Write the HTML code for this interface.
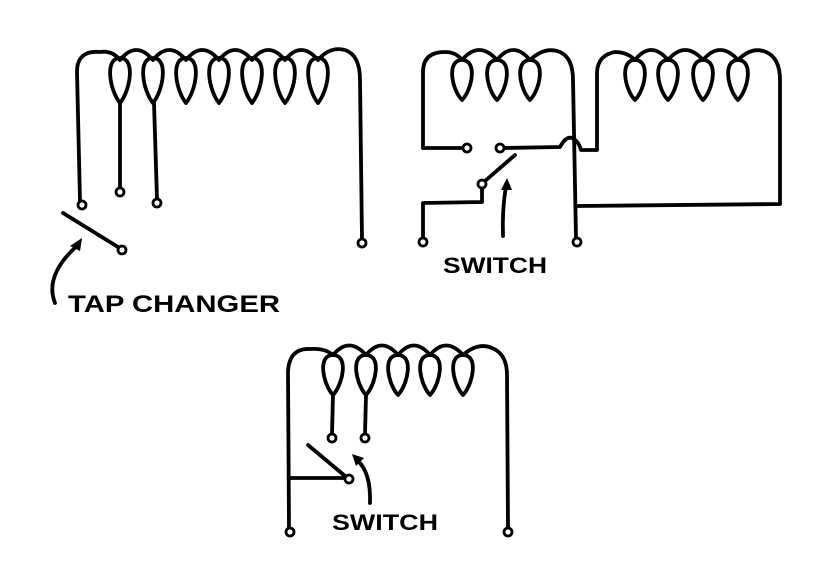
<!DOCTYPE html>
<html><head><style>html,body{margin:0;padding:0;background:#fff;}svg{display:block}</style></head>
<body>
<svg width="824" height="585" viewBox="0 0 824 585" xmlns="http://www.w3.org/2000/svg">
<g fill="none" stroke="#000" stroke-width="3.8" stroke-linecap="round" stroke-linejoin="round">
<!-- Diagram 1 -->
<path d="M80,201 L77,72 Q77,50 100,52 Q112,50 120,60"/>
<path d="M120,58 C104,58 110,91 120,103 C130,91 136,58 120,58 Z"/>
<path d="M153,58 C137,58 143,91 153,103 C163,91 169,58 153,58 Z"/>
<path d="M186,58 C170,58 176,91 186,103 C196,91 202,58 186,58 Z"/>
<path d="M219,58 C203,58 209,91 219,103 C229,91 235,58 219,58 Z"/>
<path d="M252,58 C236,58 242,91 252,103 C262,91 268,58 252,58 Z"/>
<path d="M285,58 C269,58 275,91 285,103 C295,91 301,58 285,58 Z"/>
<path d="M318,58 C302,58 308,91 318,103 C328,91 334,58 318,58 Z"/>
<path d="M120,60 Q136,40 153,60 M153,60 Q169,40 186,60 M186,60 Q202,40 219,60 M219,60 Q235,40 252,60 M252,60 Q268,40 285,60 M285,60 Q301,40 318,60"/>
<path d="M318,60 Q330,46 345,50 Q360,55 360,80 L362,239"/>
<path d="M120,103 L120,188 M154,103 L157,199"/>
<path d="M63,213 L118,247"/>
<path d="M55,303 Q44,275 78,245"/>
<!-- Diagram 2 -->
<path d="M423,148 L423,72 Q423,52 445,52 Q456,52 462,60"/>
<path d="M462,60 C446,60 452,90 462,100 C472,90 478,60 462,60 Z"/>
<path d="M497,60 C481,60 487,90 497,100 C507,90 513,60 497,60 Z"/>
<path d="M530,60 C514,60 520,90 530,100 C540,90 546,60 530,60 Z"/>
<path d="M462,60 Q479,40 497,60 M497,60 Q513,40 530,60"/>
<path d="M530,60 Q545,46 560,52 Q573,58 573,80 L576,238"/>
<path d="M423,148 L463,148"/>
<path d="M504,148 L560,147 Q566,136 572,138 Q578,140 581,150 L597,150 L597,72 Q598,55 615,52 Q627,52 635,60"/>
<path d="M635,60 C619,60 625,90 635,100 C645,90 651,60 635,60 Z"/>
<path d="M668,60 C652,60 658,90 668,100 C678,90 684,60 668,60 Z"/>
<path d="M703,60 C687,60 693,90 703,100 C713,90 719,60 703,60 Z"/>
<path d="M738,60 C722,60 728,90 738,100 C748,90 754,60 738,60 Z"/>
<path d="M635,60 Q651,40 668,60 M668,60 Q685,40 703,60 M703,60 Q720,40 738,60"/>
<path d="M738,60 Q752,46 766,52 Q780,58 780,80 L780,204 L578,206"/>
<path d="M515,155 L485,181"/>
<path d="M482,188 L482,202 L423,203 L423,238"/>
<path d="M503,236 Q502,210 506,186"/>
<!-- Diagram 3 -->
<path d="M289,528 L288,372 Q289,348 310,349 Q325,348 333,355"/>
<path d="M333,355 C317,355 323,384 333,395 C343,384 349,355 333,355 Z"/>
<path d="M366,355 C350,355 356,384 366,395 C376,384 382,355 366,355 Z"/>
<path d="M398,355 C382,355 388,384 398,395 C408,384 414,355 398,355 Z"/>
<path d="M430,355 C414,355 420,384 430,395 C440,384 446,355 430,355 Z"/>
<path d="M463,355 C447,355 453,384 463,395 C473,384 479,355 463,355 Z"/>
<path d="M333,355 Q349,336 366,355 M366,355 Q382,336 398,355 M398,355 Q414,336 430,355 M430,355 Q446,336 463,355"/>
<path d="M463,355 Q478,342 492,348 Q507,354 507,375 L508,528"/>
<path d="M333,395 L332,434 M366,395 L365,434"/>
<path d="M308,445 L345,476"/>
<path d="M289,478 L345,478"/>
<path d="M370,503 Q371,472 357,460"/>
</g>
<g fill="#fff" stroke="#000" stroke-width="2.8">
<circle cx="82" cy="205" r="4"/><circle cx="120" cy="192" r="4"/><circle cx="157" cy="203" r="4"/>
<circle cx="122" cy="250" r="4"/><circle cx="362" cy="243" r="4"/>
<circle cx="467" cy="148" r="4"/><circle cx="500" cy="148" r="4"/><circle cx="482" cy="184" r="4"/>
<circle cx="423" cy="242" r="4"/><circle cx="577" cy="242" r="4"/>
<circle cx="332" cy="438" r="4"/><circle cx="365" cy="438" r="4"/><circle cx="349" cy="479" r="4"/>
<circle cx="290" cy="532" r="4"/><circle cx="508" cy="532" r="4"/>
</g>
<g fill="#000">
<polygon points="82,238 70,246 80,251"/>
<polygon points="507,178 501,190 512,190"/>
<polygon points="352,454 356,466 364,458"/>
</g>
<g font-family="'Liberation Sans',sans-serif" font-weight="bold" fill="#000">
<text x="68" y="312" font-size="24" textLength="212" lengthAdjust="spacingAndGlyphs">TAP CHANGER</text>
<text x="443" y="273" font-size="22" textLength="104" lengthAdjust="spacingAndGlyphs">SWITCH</text>
<text x="332" y="530" font-size="22" textLength="106" lengthAdjust="spacingAndGlyphs">SWITCH</text>
</g>
</svg>
</body></html>
